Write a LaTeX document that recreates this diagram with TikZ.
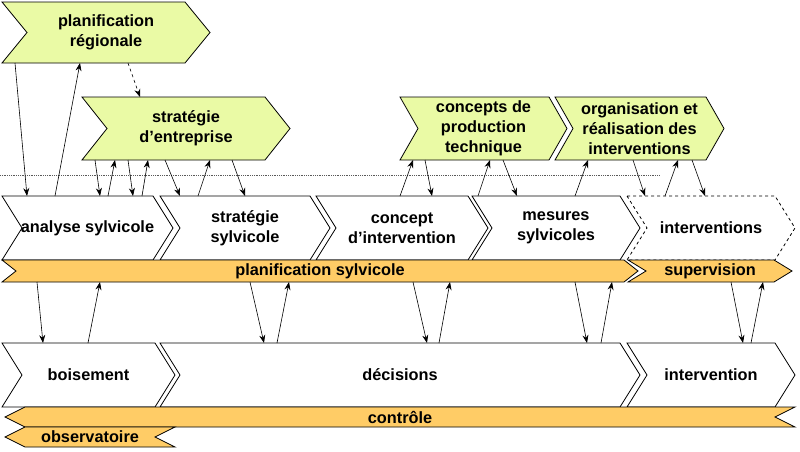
\documentclass[tikz,border=0pt]{standalone}
\usepackage{fontspec}
\setmainfont{Liberation Sans}
\usepackage{tikz}
\usetikzlibrary{arrows.meta,calc,backgrounds}
\definecolor{lime}{RGB}{234,250,165}
\definecolor{bar}{RGB}{255,204,102}

% chevron: name, x1, y1, x2, y2, depth, style, text
\newcommand{\chevron}[8]{%
\node[box,minimum width={#4-#2},minimum height={#5-#3}] (#1) at ({(#2+#4)/2},{(#3+#5)/2}) {#8};
\begin{pgfonlayer}{background}
\draw[#7] (#1.north west) -- ([xshift=-#6]#1.north east) -- (#1.east) -- ([xshift=-#6]#1.south east) -- (#1.south west) -- ([xshift=#6]#1.west) -- cycle;
\end{pgfonlayer}}
% reversed chevron (pointing left)
\newcommand{\rchevron}[8]{%
\node[box,minimum width={#4-#2},minimum height={#5-#3}] (#1) at ({(#2+#4)/2},{(#3+#5)/2}) {#8};
\begin{pgfonlayer}{background}
\draw[#7] ([xshift=#6]#1.north west) -- (#1.north east) -- ([xshift=-#6]#1.east) -- (#1.south east) -- ([xshift=#6]#1.south west) -- (#1.west) -- cycle;
\end{pgfonlayer}}

\tikzset{
  box/.style={inner sep=0pt,outer sep=0pt,align=center,font=\fontsize{16.3}{20}\selectfont\bfseries},
  top/.style={draw=black,line width=0.8pt,fill=lime},
  phase/.style={draw=black,line width=0.8pt,fill=white},
  plan/.style={draw=black,line width=0.8pt,fill=bar},
  arr/.style={-{Stealth[length=8pt,width=6pt]},line width=0.6pt}
}

\begin{document}
\begin{tikzpicture}[x=1pt,y=-1pt]
\useasboundingbox (0,0) rectangle (800,451);
% upper level
\chevron{pr}{2}{2}{210}{63}{25}{top}{planification\\régionale}
\chevron{se}{82}{97}{290}{160}{25}{top}{stratégie\\d’entreprise}
\chevron{cpt}{400}{97}{567}{160}{18}{top}{concepts de\\production\\technique}
\chevron{org}{555}{97}{724}{160}{18}{top}{organisation et\\réalisation des\\interventions}
\coordinate (dl) at (0,175);
\coordinate (dr) at (660,175);
\draw[densely dotted,line width=0.8pt,gray!70!black] (dl) -- (dr);
% planning row
\chevron{as}{2}{196}{173}{260}{20}{phase}{analyse sylvicole}
\chevron{ss}{160}{196}{330}{260}{20}{phase}{stratégie\\sylvicole}
\chevron{ci}{316}{196}{488}{260}{20}{phase}{concept\\d’intervention}
\chevron{ms}{472}{196}{640}{260}{20}{phase}{mesures\\sylvicoles}
\chevron{iv}{627}{196}{795}{260}{20}{phase,dashed}{interventions}
\chevron{ps}{2}{260}{638}{282}{14}{plan}{planification sylvicole}
\chevron{sup}{628}{260}{792}{282}{18}{plan}{supervision}
% execution row
\chevron{bo}{2}{343}{175}{407}{20}{phase}{boisement}
\chevron{dc}{160}{343}{640}{407}{20}{phase}{décisions}
\chevron{in}{627}{343}{795}{407}{20}{phase}{intervention}
\rchevron{ct}{5}{407}{795}{427}{20}{plan}{contrôle}
\rchevron{ob}{5}{427}{175}{447}{20}{plan}{observatoire}
% links
\draw[arr] ([xshift=13]pr.south west) -- ([xshift=25]as.north west);
\draw[arr] ([xshift=53]as.north west) -- ([xshift=78]pr.south west);
\draw[arr,dashed] ([xshift=126]pr.south west) -- ([xshift=58]se.north west);
\draw[arr] ([xshift=13]se.south west) -- ([xshift=98]as.north west);
\draw[arr] ([xshift=106]as.north west) -- ([xshift=33]se.south west);
\draw[arr] ([xshift=46]se.south west) -- ([xshift=131]as.north west);
\draw[arr] ([xshift=140]as.north west) -- ([xshift=66]se.south west);
\draw[arr] ([xshift=83]se.south west) -- ([xshift=20]ss.north west);
\draw[arr] ([xshift=38]ss.north west) -- ([xshift=128]se.south west);
\draw[arr] ([xshift=150]se.south west) -- ([xshift=85]ss.north west);
\draw[arr] ([xshift=84]ci.north west) -- ([xshift=13]cpt.south west);
\draw[arr] ([xshift=25]cpt.south west) -- ([xshift=116]ci.north west);
\draw[arr] ([xshift=6]ms.north west) -- ([xshift=90]cpt.south west);
\draw[arr] ([xshift=103]cpt.south west) -- ([xshift=45]ms.north west);
\draw[arr] ([xshift=103]ms.north west) -- ([xshift=33]org.south west);
\draw[arr] ([xshift=78]org.south west) -- ([xshift=18]iv.north west);
\draw[arr] ([xshift=38]iv.north west) -- ([xshift=123]org.south west);
\draw[arr] ([xshift=137]org.south west) -- ([xshift=78]iv.north west);
\draw[arr] ([xshift=35]ps.south west) -- ([xshift=41]bo.north west);
\draw[arr] ([xshift=86]bo.north west) -- ([xshift=98]ps.south west);
\draw[arr] ([xshift=248]ps.south west) -- ([xshift=104]dc.north west);
\draw[arr] ([xshift=117]dc.north west) -- ([xshift=287]ps.south west);
\draw[arr] ([xshift=411]ps.south west) -- ([xshift=267]dc.north west);
\draw[arr] ([xshift=279]dc.north west) -- ([xshift=448]ps.south west);
\draw[arr] ([xshift=573]ps.south west) -- ([xshift=427]dc.north west);
\draw[arr] ([xshift=441]dc.north west) -- ([xshift=610]ps.south west);
\draw[arr] ([xshift=103]sup.south west) -- ([xshift=116]in.north west);
\draw[arr] ([xshift=124]in.north west) -- ([xshift=135]sup.south west);
\end{tikzpicture}
\end{document}
